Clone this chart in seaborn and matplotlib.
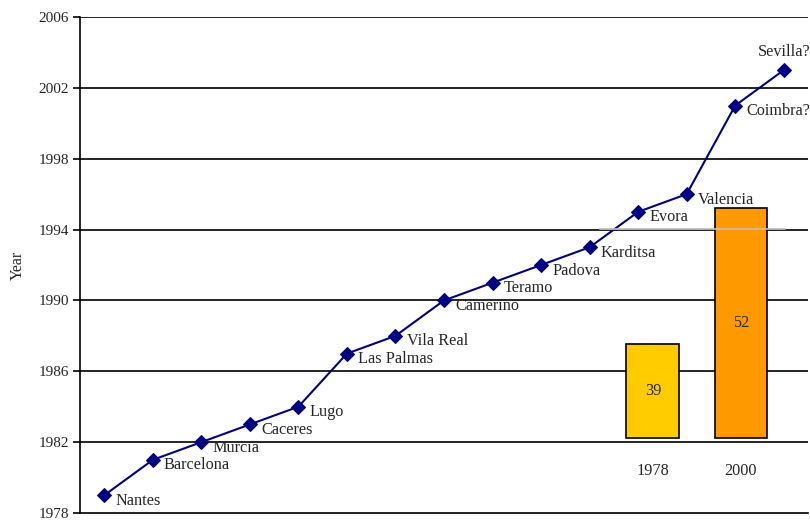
import matplotlib
matplotlib.use("Agg")
import matplotlib.pyplot as plt
import seaborn as sns
import pandas as pd

cities = ["Nantes", "Barcelona", "Murcia", "Caceres", "Lugo", "Las Palmas", "Vila Real",
          "Camerino", "Teramo", "Padova", "Karditsa", "Evora", "Valencia", "Coimbra?", "Sevilla?"]
years = [1979, 1981, 1982, 1983, 1984, 1987, 1988, 1990, 1991, 1992, 1993, 1995, 1996, 2001, 2003]
yticks = [1978, 1982, 1986, 1990, 1994, 1998, 2002, 2006]
inset_cats = ["1978", "2000"]
inset_vals = [39, 52]
inset_colors = ["#FFCC00", "#FF9900"]
inset_base = 30

sns.set_theme(style="white")
plt.rcParams["font.family"] = ["Liberation Serif", "DejaVu Serif"]

W, H = 810, 523
fig = plt.figure(figsize=(W / 100, H / 100), dpi=100)
ax = fig.add_axes([80 / W, 1 - 513 / H, (808 - 80) / W, (513 - 17) / H])

df = pd.DataFrame({"idx": list(range(len(cities))), "year": years, "city": cities})
sns.lineplot(data=df, x="idx", y="year", ax=ax, color="#000080", linewidth=1.5,
             marker="D", markersize=7.5, markeredgecolor="#000080", zorder=5)

ax.set_xlim(-0.5, 14.5)
ax.set_ylim(1978, 2006)
ax.set_yticks(yticks)
ax.set_yticklabels([str(t) for t in yticks], fontsize=11)
ax.set_xticks([])
ax.set_xlabel("")
ax.set_ylabel("Year", fontsize=11.5)
ax.yaxis.set_label_coords(-0.074, 0.5)
for y in yticks[1:]:
    ax.axhline(y, color="black", linewidth=1.2, zorder=1)
for s in ["top", "right"]:
    ax.spines[s].set_visible(False)
for s in ["left", "bottom"]:
    ax.spines[s].set_color("black")
    ax.spines[s].set_linewidth(1.2)
ax.tick_params(axis="y", direction="out", length=5, width=1.2, color="black", left=True, pad=3)

for i, (c, y) in enumerate(zip(cities, years)):
    if c == "Sevilla?":
        ax.annotate(c, (i, y), xytext=(0, 7), textcoords="offset points",
                    ha="center", va="bottom", fontsize=11.7, annotation_clip=False)
    else:
        ax.annotate(c, (i, y), xytext=(8, -4), textcoords="offset points",
                    ha="left", va="center", fontsize=11.7, annotation_clip=False)

# inset bar chart
ins = fig.add_axes([600 / W, 1 - 438 / H, (785 - 600) / W, (438 - 229) / H])
ins.patch.set_alpha(0)
idf = pd.DataFrame({"cat": inset_cats, "val": inset_vals})
sns.barplot(data=idf, x="cat", y="val", hue="cat", palette=inset_colors, legend=False,
            ax=ins, edgecolor="black", linewidth=1.2, width=0.6, saturation=1)
ins.set_ylim(inset_base, 50)
ins.set_xlim(-0.6, 1.5)
for p in ins.patches:
    h = p.get_height()
    p.set_y(inset_base)
    p.set_height(h - inset_base)
    p.set_clip_on(False)
for i, v in enumerate(inset_vals):
    ins.text(i, (inset_base + v) / 2, str(v), ha="center", va="center", fontsize=11.7)
    ins.annotate(inset_cats[i], (i, inset_base), xytext=(0, -24), textcoords="offset points",
                 ha="center", va="center", fontsize=11.7, annotation_clip=False)
ins.set_yticks([])
ins.set_xticks([])
ins.set_xlabel("")
ins.set_ylabel("")
for s in ["left", "right", "bottom"]:
    ins.spines[s].set_visible(False)
ins.spines["top"].set_color("#c0c0c0")
ins.spines["top"].set_linewidth(1.2)

fig.savefig("out.png", dpi=100)
